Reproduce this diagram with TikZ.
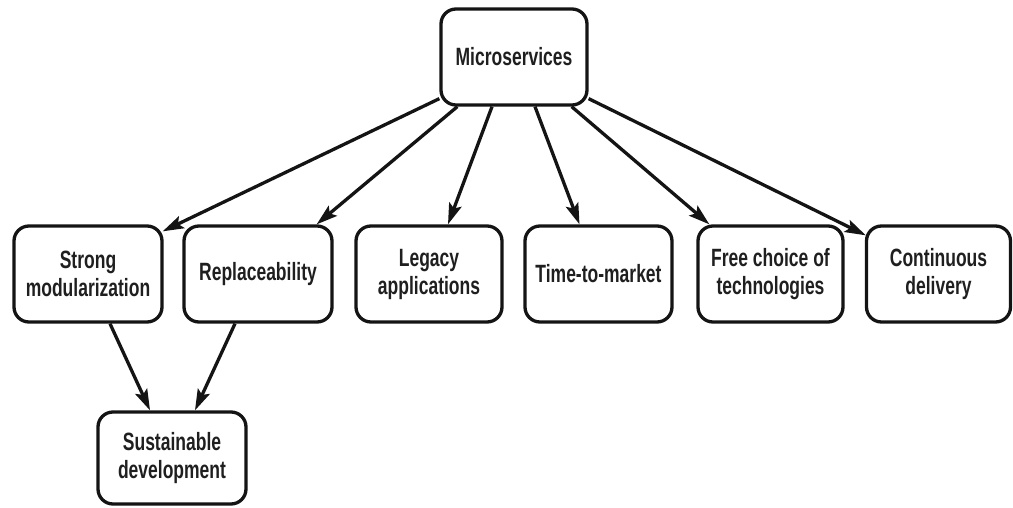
\documentclass[tikz,border=0pt]{standalone}
\usepackage{fontspec}
\setmainfont{Liberation Sans}[FakeStretch=0.7]
\usetikzlibrary{arrows.meta}
\tikzset{
  box/.style={draw=black!92, line width=3.3pt, rounded corners=15pt, align=center,
    inner sep=0pt, minimum height=96pt,
    font=\fontsize{25}{28}\selectfont\bfseries, text=black!88},
  link/.style={draw=black!92, line width=3.3pt, -{Stealth[length=21pt,width=13pt,inset=4pt]}}
}
\begin{document}
\begin{tikzpicture}[x=1pt,y=-1pt]
\useasboundingbox (0,0) rectangle (1013,508);

\node[box, minimum width=146pt] (micro) at (514,57) {Microservices};

\node[box, minimum width=148pt] (strong) at (88,274) {Strong\\modularization};
\node[box, minimum width=148pt] (repl) at (258,274) {Replaceability};
\node[box, minimum width=146pt] (legacy) at (429,274) {Legacy\\applications};
\node[box, minimum width=147pt] (ttm) at (598.5,274) {Time-to-market};
\node[box, minimum width=145pt] (free) at (770.5,274) {Free choice of\\technologies};
\node[box, minimum width=144pt] (cont) at (938.5,274) {Continuous\\delivery};

\node[box, minimum width=148pt, minimum height=92pt] (sust) at (172,458) {Sustainable\\development};

% edges from the root
\draw[link] ([yshift=8pt]micro.south west) -- ([xshift=-1pt,yshift=-7pt]strong.north east);
\draw[link] ([xshift=18pt]micro.south west) -- ([xshift=-17pt]repl.north east);
\draw[link] ([xshift=-22pt]micro.south) -- ([xshift=19pt]legacy.north);
\draw[link] ([xshift=21pt]micro.south) -- ([xshift=-19pt]ttm.north);
\draw[link] ([xshift=-17pt]micro.south east) -- ([xshift=13pt]free.north west);
\draw[link] ([yshift=8pt]micro.south east) -- ([xshift=1pt,yshift=-11pt]cont.north west);

% edges into the sustainability node
\draw[link] ([xshift=22pt]strong.south) -- ([xshift=-22pt]sust.north);
\draw[link] ([xshift=-23pt]repl.south) -- ([xshift=23pt]sust.north);
\end{tikzpicture}
\end{document}
